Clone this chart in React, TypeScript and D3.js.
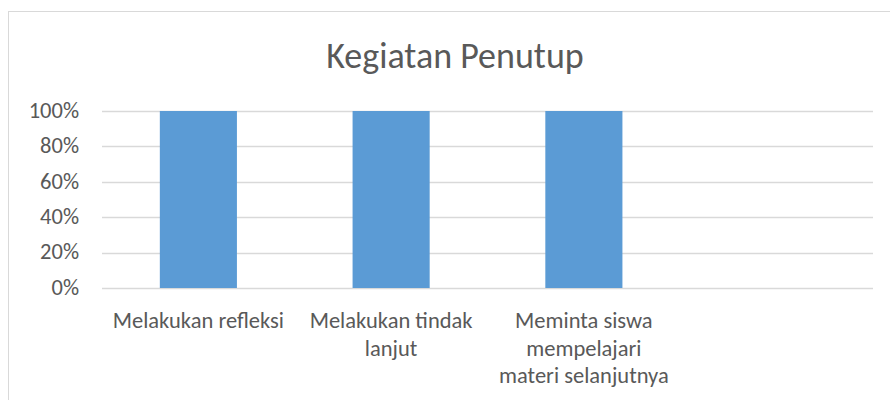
import React, { useEffect, useRef } from 'react';
import * as d3 from 'd3';

// chart data
const title = 'Kegiatan Penutup';
const categories = [
  'Melakukan refleksi',
  'Melakukan tindak\nlanjut',
  'Meminta siswa\nmempelajari\nmateri selanjutnya',
  '',
];
const values: (number | null)[] = [1, 1, 1, null];
const yTicks = [0, 0.2, 0.4, 0.6, 0.8, 1];

const FONT = 'Calibri, Carlito, Lato, sans-serif';

const App = () => {
  const ref = useRef<SVGSVGElement>(null);

  useEffect(() => {
    const svg = d3.select(ref.current);
    svg.selectAll('*').remove();
    const width = 890;
    const height = 400;
    const margin = { top: 111, right: 17, bottom: 112, left: 102 };

    // outer frame (runs off the right/bottom edge)
    svg.append('rect')
      .attr('x', 8.5)
      .attr('y', 11.5)
      .attr('width', width + 20)
      .attr('height', height + 20)
      .attr('fill', '#fff')
      .attr('stroke', '#d9d9d9');

    const band = d3.scaleBand()
      .domain(categories.map((d, i) => String(i)))
      .range([margin.left, width - margin.right]);

    const y = d3.scaleLinear().domain([0, 1]).range([height - margin.bottom, margin.top]);

    // gridlines
    svg.append('g')
      .selectAll('line')
      .data(yTicks)
      .enter()
      .append('line')
      .attr('x1', margin.left)
      .attr('x2', width - margin.right)
      .attr('y1', (d) => Math.round(y(d)) + 0.5)
      .attr('y2', (d) => Math.round(y(d)) + 0.5)
      .attr('stroke', '#d9d9d9')
      .attr('stroke-width', 1.3);

    // y tick labels
    svg.append('g')
      .selectAll('text')
      .data(yTicks)
      .enter()
      .append('text')
      .attr('x', 79)
      .attr('y', (d) => y(d) + 1.5)
      .attr('dominant-baseline', 'middle')
      .attr('text-anchor', 'end')
      .attr('fill', '#595959')
      .style('font-family', FONT)
      .style('font-size', '22.5px')
      .text((d) => d3.format('.0%')(d));

    // bars, gap width 150%
    svg.append('g')
      .selectAll('rect')
      .data(values.map((v, i) => ({ v, i })).filter((d) => d.v != null))
      .enter()
      .append('rect')
      .attr('x', (d) => band(String(d.i))! + band.bandwidth() * 0.3)
      .attr('width', band.bandwidth() * 0.4)
      .attr('y', (d) => y(d.v as number))
      .attr('height', (d) => y(0) - y(d.v as number))
      .attr('fill', '#5b9bd5');

    // category labels
    const cat = svg.append('g')
      .selectAll('text')
      .data(categories)
      .enter()
      .append('text')
      .attr('text-anchor', 'middle')
      .attr('fill', '#595959')
      .style('font-family', FONT)
      .style('font-size', '22.5px');
    cat.each(function (d, i) {
      const t = d3.select(this);
      d.split('\n').forEach((line, j) => {
        t.append('tspan')
          .attr('x', band(String(i))! + band.bandwidth() / 2)
          .attr('y', 328 + j * 27.7)
          .text(line);
      });
    });

    // title
    svg.append('text')
      .attr('x', 455)
      .attr('y', 68)
      .attr('text-anchor', 'middle')
      .attr('fill', '#595959')
      .style('font-family', FONT)
      .style('font-size', '36px')
      .text(title);
  }, []);

  return (
    <svg
      ref={ref}
      width={890}
      height={400}
      style={{ position: 'absolute', left: 0, top: 0, background: '#fff' }}
    />
  );
};

export default App;
